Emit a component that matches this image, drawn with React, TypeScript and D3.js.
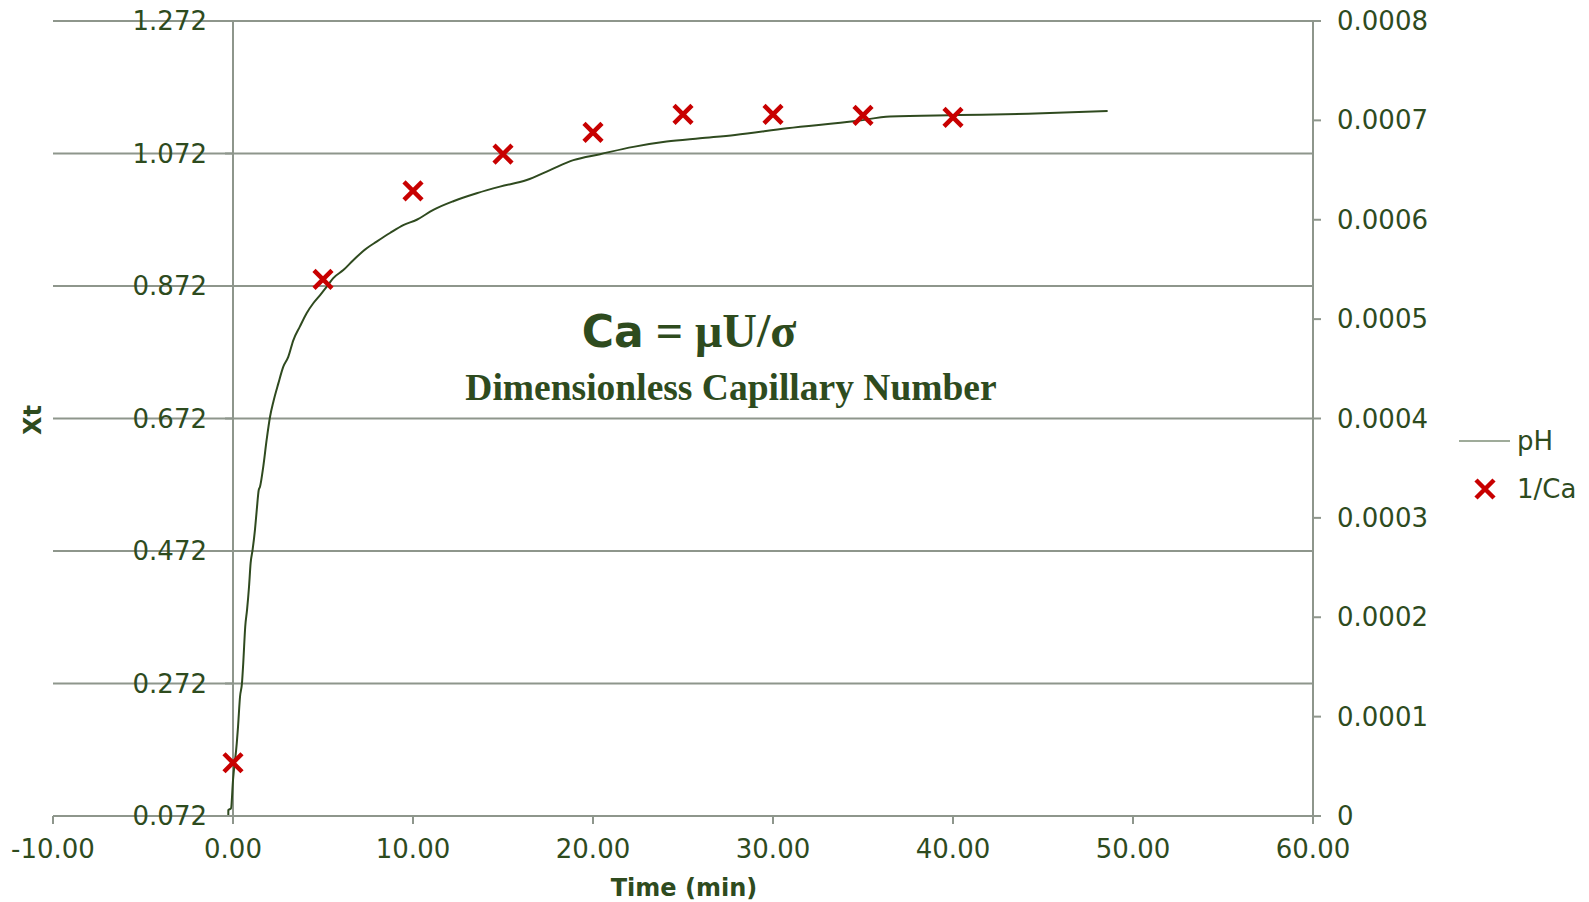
import React from "react";
import * as d3 from "d3";

// ---------- DATA ----------
const xTicks = [-10, 0, 10, 20, 30, 40, 50, 60];
const xTickLabels = ["-10.00", "0.00", "10.00", "20.00", "30.00", "40.00", "50.00", "60.00"];
const yLeftTicks = [0.072, 0.272, 0.472, 0.672, 0.872, 1.072, 1.272];
const yLeftTickLabels = ["0.072", "0.272", "0.472", "0.672", "0.872", "1.072", "1.272"];
const yRightTicks = [0, 0.0001, 0.0002, 0.0003, 0.0004, 0.0005, 0.0006, 0.0007, 0.0008];
const yRightTickLabels = ["0", "0.0001", "0.0002", "0.0003", "0.0004", "0.0005", "0.0006", "0.0007", "0.0008"];

// pH series (left axis, Xt)
const phTime = [
  -0.26, -0.26, -0.11, 0.0, 0.21, 0.28, 0.39, 0.5, 0.57, 0.68, 0.78, 0.89, 0.98, 1.09, 1.22, 1.32, 1.43,
  1.5, 1.68, 1.87, 2.06, 2.24, 2.52, 2.79, 3.07, 3.35, 3.72, 4.09, 4.46, 4.83, 5.21, 5.57, 6.13, 6.68,
  7.43, 7.98, 8.72, 9.46, 10.21, 11.13, 12.24, 13.54, 14.83, 16.32, 17.61, 18.91, 20.39, 22.24, 24.09,
  25.94, 27.89, 30.78, 34.61, 36.5, 40.33, 44.17, 48.59,
];
const phXt = [
  0.0735, 0.081, 0.0836, 0.126, 0.182, 0.207, 0.252, 0.273, 0.303, 0.358, 0.383, 0.418, 0.454, 0.474, 0.504,
  0.534, 0.564, 0.569, 0.599, 0.64, 0.675, 0.697, 0.725, 0.75, 0.765, 0.79, 0.811, 0.831, 0.846, 0.858,
  0.871, 0.884, 0.896, 0.911, 0.929, 0.939, 0.952, 0.964, 0.972, 0.987, 1.0, 1.012, 1.022, 1.032, 1.047,
  1.062, 1.071, 1.082, 1.09, 1.095, 1.1, 1.11, 1.121, 1.128, 1.13, 1.132, 1.136,
];

// 1/Ca series (right axis)
const caTime = [0, 5, 10, 15, 20, 25, 30, 35, 40];
const caValue = [0.0000536, 0.00054, 0.000629, 0.000666, 0.000688, 0.000706, 0.000706, 0.000705, 0.000703];

const seriesNames = ["pH", "1/Ca"];

// ---------- STYLE ----------
const W = 1589;
const H = 902;
const M = { left: 53, right: 1313, top: 21, bottom: 816 };
const TEXT = "#2e4b1e";
const GRID = "#8e968c";
const LINE = "#2f4a1f";
const MARK = "#c80000";
const FONT = "'DejaVu Sans', Verdana, sans-serif";
const SERIF = "'Liberation Serif', 'Times New Roman', serif";

function Cross({ x, y, r = 9 }: { x: number; y: number; r?: number }) {
  return (
    <path
      d={`M${x - r},${y - r}L${x + r},${y + r}M${x - r},${y + r}L${x + r},${y - r}`}
      stroke={MARK}
      strokeWidth={4.5}
      fill="none"
    />
  );
}

export default function App() {
  const x = d3.scaleLinear().domain([-10, 60]).range([M.left, M.right]);
  const yL = d3.scaleLinear().domain([0.072, 1.272]).range([M.bottom, M.top]);
  const yR = d3.scaleLinear().domain([0, 0.0008]).range([M.bottom, M.top]);

  const phData = phTime.map((t, i) => [t, phXt[i]] as [number, number]);
  const line = d3
    .line<[number, number]>()
    .x((d) => x(d[0]))
    .y((d) => yL(d[1]))
    .curve(d3.curveMonotoneX);

  const x0 = x(0);

  return (
    <svg width={W} height={H} style={{ position: "absolute", left: 0, top: 0, background: "#fff" }} fontFamily={FONT}>
      <rect x={0} y={0} width={W} height={H} fill="#fff" />
      {/* horizontal gridlines */}
      {yLeftTicks.map((v, i) => (
        <line key={"g" + i} x1={M.left} x2={M.right} y1={yL(v)} y2={yL(v)} stroke={GRID} strokeWidth={2} />
      ))}
      {/* left axis line at x=0 */}
      <line x1={x0} x2={x0} y1={M.top} y2={M.bottom} stroke={GRID} strokeWidth={2} />
      {yLeftTicks.map((v, i) => (
        <line key={"lt" + i} x1={x0 - 8} x2={x0} y1={yL(v)} y2={yL(v)} stroke={GRID} strokeWidth={2} />
      ))}
      {/* bottom axis ticks */}
      {xTicks.map((v, i) => (
        <line key={"xt" + i} x1={x(v)} x2={x(v)} y1={M.bottom} y2={M.bottom + 8} stroke={GRID} strokeWidth={2} />
      ))}
      {/* right axis */}
      <line x1={M.right} x2={M.right} y1={M.top} y2={M.bottom} stroke={GRID} strokeWidth={2} />
      {yRightTicks.map((v, i) => (
        <line key={"rt" + i} x1={M.right} x2={M.right + 8} y1={yR(v)} y2={yR(v)} stroke={GRID} strokeWidth={2} />
      ))}

      {/* left tick labels */}
      {yLeftTicks.map((v, i) => (
        <text key={"ll" + i} x={207} y={yL(v)} dy="0.35em" textAnchor="end" fontSize={26} fill={TEXT}>
          {yLeftTickLabels[i]}
        </text>
      ))}
      {/* right tick labels */}
      {yRightTicks.map((v, i) => (
        <text key={"rl" + i} x={1337} y={yR(v)} dy="0.35em" textAnchor="start" fontSize={26} fill={TEXT}>
          {yRightTickLabels[i]}
        </text>
      ))}
      {/* bottom tick labels */}
      {xTicks.map((v, i) => (
        <text key={"xl" + i} x={x(v)} y={858} textAnchor="middle" fontSize={26} fill={TEXT}>
          {xTickLabels[i]}
        </text>
      ))}

      {/* axis titles */}
      <text x={684} y={896} textAnchor="middle" fontSize={24} fontWeight="bold" fill={TEXT}>
        Time (min)
      </text>
      <text
        transform={`translate(41,420) rotate(-90)`}
        textAnchor="middle"
        fontSize={24}
        fontWeight="bold"
        fill={TEXT}
      >
        Xt
      </text>

      {/* pH line */}
      <path d={line(phData) || ""} fill="none" stroke={LINE} strokeWidth={2} />

      {/* 1/Ca markers */}
      {caTime.map((t, i) => (
        <Cross key={"c" + i} x={x(t)} y={yR(caValue[i])} />
      ))}

      {/* annotation */}
      <text x={689} y={347} textAnchor="middle" fontWeight="bold" fill={TEXT}>
        <tspan fontFamily={FONT} fontSize={44}>Ca</tspan>
        <tspan fontFamily={SERIF} fontSize={48}>
          {" = μU/σ"}
        </tspan>
      </text>
      <text x={731} y={400} textAnchor="middle" fontSize={37.5} fontWeight="bold" fontFamily={SERIF} fill={TEXT}>
        Dimensionless Capillary Number
      </text>

      {/* legend */}
      <line x1={1459} x2={1510} y1={441} y2={441} stroke="#7f8f78" strokeWidth={1.5} />
      <text x={1517} y={441} dy="0.35em" fontSize={26} fill={TEXT}>
        {seriesNames[0]}
      </text>
      <Cross x={1485} y={489} />
      <text x={1517} y={489} dy="0.35em" fontSize={26} fill={TEXT}>
        {seriesNames[1]}
      </text>
    </svg>
  );
}
